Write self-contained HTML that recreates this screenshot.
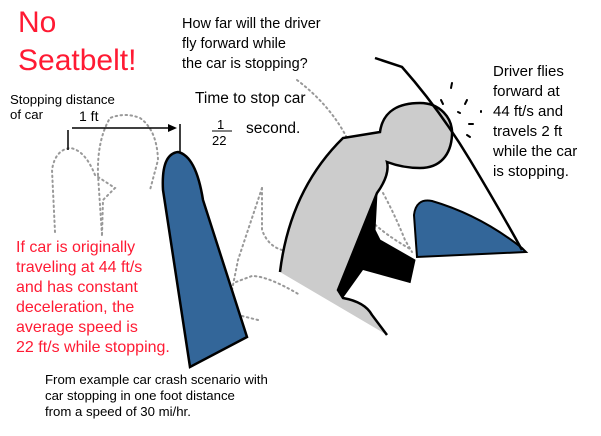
<!DOCTYPE html>
<html><head><meta charset="utf-8"><style>
body{margin:0;background:#fff;}
svg{display:block}
text{font-family:"Liberation Sans",sans-serif;}
</style></head><body>
<svg width="601" height="436" viewBox="0 0 601 436" xmlns="http://www.w3.org/2000/svg">
<g fill="none" stroke="#999" stroke-width="2" stroke-dasharray="1.5 3.5" stroke-linecap="round">
<path d="M55,232 L52,170 Q55,150 70,148 Q85,150 95,175 L115,188 L103,200 L102,235"/>
<path d="M102,235 L98,175 Q97,140 110,118 Q125,112 140,118 Q157,130 158,160 L150,190"/>
<path d="M297,80 Q330,105 347,138"/>
<path d="M262,188 L262,230 Q268,246 282,250"/>
<path d="M262,188 L252,218 L238,260 L232,290"/>
<path d="M236,282 L252,276 Q268,276 300,295"/>
<path d="M242,316 L258,320"/>
<path d="M383,193 Q395,215 405,240 L412,252"/>
<path d="M368,218 Q385,235 412,250"/>
</g>
<path d="M190,367 L163,190 Q161,154 178,152 Q196,156 203,200 L247,337 Z" fill="#336699" stroke="#000" stroke-width="2.5"/>
<path d="M417,257 L414,215 Q416,198 432,201 Q480,215 522,248 L526,252 Z" fill="#336699" stroke="#000" stroke-width="2"/>
<path d="M377,193 L375,230 L380,240 L415,260 L410,283 L363,270 L343,298 L338,290 Z" fill="#000"/>
<path d="M280,272 Q290,190 343,138 L380,132 C383,110 400,103 420,103 C440,103 453,118 452,135 C451,155 440,168 420,168 C405,168 395,165 387,162 Q390,175 377,193 L338,290 L343,298 Q365,302 372,315 L387,335 Z" fill="#ccc"/>
<path d="M280,272 Q290,190 343,138 L380,132 C383,110 400,103 420,103 C440,103 453,118 452,135 C451,155 440,168 420,168 C405,168 395,165 387,162 Q390,175 377,193 L338,290 L343,298 Q365,302 372,315 L387,335" fill="none" stroke="#000" stroke-width="2.5"/>
<path d="M377,193 L375,230 L380,240 L415,260 L410,283" fill="none" stroke="#000" stroke-width="1"/>
<path d="M375,58 L402,67 Q440,110 470,160 Q500,210 522,250" fill="none" stroke="#000" stroke-width="2.5"/>
<g stroke="#000" stroke-width="2" stroke-linecap="round">
<line x1="452" y1="83" x2="451" y2="88"/><line x1="441" y1="100" x2="443" y2="104"/>
<line x1="465" y1="104" x2="467" y2="100"/><line x1="469" y1="124" x2="473" y2="124"/>
<line x1="467" y1="135" x2="470" y2="137"/><line x1="458" y1="112" x2="460" y2="113"/>
<line x1="481" y1="111" x2="481" y2="112"/>
</g>
<line x1="68" y1="130" x2="68" y2="150" stroke="#000" stroke-width="1.5"/>
<line x1="180" y1="124" x2="180" y2="152" stroke="#000" stroke-width="1.5"/>
<line x1="72" y1="128" x2="172" y2="128" stroke="#000" stroke-width="1.5"/>
<path d="M177,128 L168,124 L168,132 Z" fill="#000"/>
<g fill="#ff1a33">
<text x="18" y="32" font-size="30">No</text>
<text x="18" y="70" font-size="30">Seatbelt!</text>
<g font-size="16">
<text x="16" y="252">If car is originally</text>
<text x="16" y="272">traveling at 44 ft/s</text>
<text x="16" y="292">and has constant</text>
<text x="16" y="312">deceleration, the</text>
<text x="16" y="332">average speed is</text>
<text x="16" y="352">22 ft/s while stopping.</text>
</g></g>
<g fill="#000" font-size="14.5">
<text x="182" y="28">How far will the driver</text>
<text x="182" y="48">fly forward while</text>
<text x="182" y="68">the car is stopping?</text>
<text x="195" y="103" font-size="15.5">Time to stop car</text>
<text x="217" y="129" font-size="13">1</text>
<text x="212" y="145" font-size="13">22</text>
<text x="246" y="133" font-size="15.5">second.</text>
<g font-size="15">
<text x="493" y="76">Driver flies</text>
<text x="493" y="96">forward at</text>
<text x="493" y="116">44 ft/s and</text>
<text x="493" y="136">travels 2 ft</text>
<text x="493" y="156">while the car</text>
<text x="493" y="176">is stopping.</text>
</g>
</g>
<line x1="212" y1="131" x2="232" y2="131" stroke="#000" stroke-width="1"/>
<g fill="#000" font-size="13.2">
<text x="10" y="104">Stopping distance</text>
<text x="10" y="119">of car</text>
<text x="79" y="121" font-size="14">1 ft</text>
<text x="45" y="384">From example car crash scenario with</text>
<text x="45" y="400">car stopping in one foot distance</text>
<text x="45" y="416">from a speed of 30 mi/hr.</text>
</g>
</svg>
</body></html>
